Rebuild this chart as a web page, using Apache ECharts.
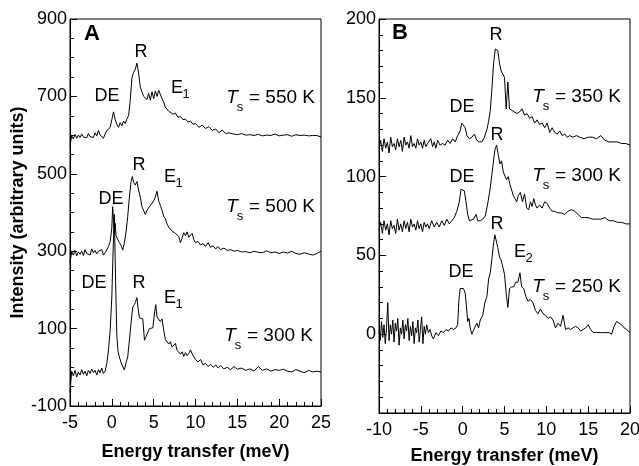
<!DOCTYPE html>
<html>
<head>
<meta charset="utf-8">
<script src="https://cdn.jsdelivr.net/npm/echarts@6/dist/echarts.min.js"></script>
<style>
  html, body { margin: 0; padding: 0; background: #fff; }
  #chart { width: 639px; height: 466px; }
</style>
</head>
<body>
<div id="chart"></div>
<script>
// panel A: Ts = 550 K, 500 K, 300 K
const xA550 = [-5,-4.8,-4.6,-4.4,-4.2,-4,-3.8,-3.6,-3.4,-3.2,-3,-2.8,-2.6,-2.4,-2.2,-2,-1.8,-1.6,-1.4,-1.2,-1,-0.8,-0.6,-0.4,-0.2,0,0.2,0.4,0.6,0.8,1,1.2,1.4,1.6,1.8,2,2.2,2.4,2.6,2.8,3,3.2,3.4,3.6,3.8,4,4.2,4.4,4.6,4.8,5,5.2,5.4,5.6,5.8,6,6.2,6.4,6.6,6.8,7,7.3,7.6,7.9,8.2,8.5,8.8,9.1,9.4,9.7,10,10.4,10.8,11.2,11.6,12,12.4,12.8,13.2,13.6,14,14.5,15,15.5,16,16.5,17,17.5,18,18.5,19,19.5,20,20.5,21,21.5,22,22.5,23,23.5,24,24.5,25];
const yA550 = [572,598,590,602,592,600,594,603,595,600,593,604,596,601,594,606,598,612,600,596,592,603,612,607,620,640,660,640,628,620,632,624,636,630,642,650,690,748,762,770,786,760,724,712,700,704,692,708,690,712,694,714,700,716,713,694,686,672,676,662,666,654,657,646,648,640,641,634,636,628,630,620,626,617,622,612,616,606,613,604,606,603,601,604,600,601,599,602,598,600,599,603,598,600,601,597,601,599,600,598,599,599,595];

const xA500 = [-5,-4.8,-4.6,-4.4,-4.2,-4,-3.8,-3.6,-3.4,-3.2,-3,-2.8,-2.6,-2.4,-2.2,-2,-1.8,-1.6,-1.4,-1.2,-1,-0.8,-0.6,-0.4,-0.2,0,0.1,0.2,0.3,0.4,0.5,0.7,0.9,1.1,1.3,1.5,1.7,1.9,2.1,2.3,2.45,2.6,2.8,3,3.2,3.4,3.6,3.8,4,4.2,4.4,4.6,4.8,5,5.2,5.4,5.6,5.8,6,6.2,6.4,6.6,6.8,7,7.2,7.4,7.6,7.8,8,8.2,8.4,8.6,8.8,9,9.2,9.4,9.6,9.8,10,10.3,10.6,10.9,11.2,11.5,11.8,12.1,12.4,12.7,13,13.4,13.8,14.2,14.6,15,15.5,16,16.5,17,17.5,18,18.5,19,19.5,20,20.5,21,21.5,22,22.5,23,23.5,24,24.5,25];
const yA500 = [270,298,290,302,288,298,292,300,289,304,294,298,290,306,296,302,293,300,295,304,290,296,300,312,325,360,415,380,345,372,340,335,322,315,303,322,350,390,440,480,493,478,471,480,458,440,415,420,395,406,402,418,413,430,440,455,430,418,406,390,384,370,362,364,352,356,346,350,338,322,334,348,340,350,336,337,346,330,322,325,316,320,312,322,310,314,306,312,304,308,302,304,300,302,298,299,296,300,297,296,301,296,298,294,298,295,300,294,292,296,293,290,294,300];

const xA300 = [-5,-4.8,-4.6,-4.4,-4.2,-4,-3.8,-3.6,-3.4,-3.2,-3,-2.8,-2.6,-2.4,-2.2,-2,-1.8,-1.6,-1.4,-1.2,-1,-0.8,-0.6,-0.4,-0.2,0,0.15,0.3,0.45,0.6,0.75,0.9,1.1,1.3,1.5,1.7,1.9,2.1,2.3,2.5,2.7,2.85,3,3.15,3.3,3.5,3.7,3.9,4.1,4.3,4.5,4.7,4.9,5.1,5.25,5.4,5.6,5.8,6,6.2,6.4,6.6,6.8,7,7.2,7.4,7.6,7.8,8,8.2,8.4,8.6,8.8,9,9.2,9.4,9.6,9.8,10,10.3,10.6,10.9,11.2,11.5,11.8,12.1,12.4,12.7,13,13.4,13.8,14.2,14.6,15,15.5,16,16.5,17,17.5,18,18.5,19,19.5,20,20.5,21,21.5,22,22.5,23,23.5,24,24.5,25];
const yA300 = [-66,-10,-22,-8,-25,-12,-20,-6,-18,-10,-22,-8,-16,-4,-14,-8,-20,-6,-14,-2,-16,-10,10,45,96,182,300,395,220,80,40,27,12,11,-7,12,27,70,115,156,162,170,180,150,128,132,125,70,80,78,100,104,102,140,162,130,135,118,125,96,72,74,60,66,52,55,62,44,48,34,40,28,38,30,36,45,35,38,20,14,20,6,10,2,8,0,6,-2,4,-4,0,-6,2,-5,-2,-8,-4,-10,2,-8,-4,-10,-6,-8,-5,-10,-12,-6,-10,-14,-8,-12,-10,-12];

// panel B: Ts = 350 K, 300 K, 250 K
const xB350 = [-10,-9.8,-9.6,-9.4,-9.2,-9,-8.8,-8.6,-8.4,-8.2,-8,-7.8,-7.6,-7.4,-7.2,-7,-6.8,-6.6,-6.4,-6.2,-6,-5.8,-5.6,-5.4,-5.2,-5,-4.8,-4.6,-4.4,-4.2,-4,-3.8,-3.6,-3.4,-3.2,-3,-2.7,-2.4,-2.1,-1.8,-1.5,-1.2,-0.9,-0.6,-0.3,-0.1,0.1,0.3,0.5,0.8,1.1,1.4,1.7,2,2.3,2.6,2.9,3.1,3.3,3.5,3.7,3.9,4,4.2,4.4,4.6,4.8,5,5.2,5.4,5.6,5.9,6.2,6.5,6.8,7.1,7.4,7.7,8,8.3,8.6,8.9,9.2,9.5,9.8,10.1,10.4,10.7,11,11.3,11.6,11.9,12.2,12.5,12.8,13.2,13.6,14,14.5,15,15.5,16,16.5,17,17.5,18,18.5,19,19.5,20];
const yB350 = [118,123,116,124,118,122,115,125,119,121,117,124,119,123,116,125,120,122,118,126,119,121,118,124,120,122,118,123,119,121,120,124,119,122,118,123,120,121,120,123,121,124,122,126,129,134,135,131,126,124,125,127,123,122,122,125,130,135,142,156,172,181,182,180,172,167,166,163,143,160,143,142,141,140,141,143,139,140,137,138,134,136,133,134,131,134,128,131,128,127,129,126,127,125,126,125,126,125,124,125,125,124,126,123,122,122,122,121,121,120];

const xB300 = [-10,-9.8,-9.6,-9.4,-9.2,-9,-8.8,-8.6,-8.4,-8.2,-8,-7.8,-7.6,-7.4,-7.2,-7,-6.8,-6.6,-6.4,-6.2,-6,-5.8,-5.6,-5.4,-5.2,-5,-4.8,-4.6,-4.4,-4.2,-4,-3.7,-3.4,-3.1,-2.8,-2.5,-2.2,-1.9,-1.6,-1.3,-1,-0.7,-0.4,-0.2,0,0.2,0.4,0.6,0.8,1,1.3,1.6,1.8,2.1,2.4,2.7,3,3.3,3.6,3.85,4.05,4.25,4.45,4.65,4.85,5.05,5.25,5.45,5.65,5.85,6.05,6.25,6.45,6.65,6.9,7.15,7.4,7.65,7.9,8.1,8.3,8.5,8.7,8.9,9.2,9.5,9.8,10.1,10.4,10.7,11,11.4,11.8,12.2,12.6,13,13.4,13.8,14.2,14.6,15,15.5,16,16.5,17,17.5,18,18.5,19,19.5,20];
const yB300 = [66,71,64,72,66,70,63,72,67,69,64,73,66,70,65,72,67,71,65,73,68,70,66,72,67,70,65,71,68,70,67,72,68,71,68,72,69,73,70,72,74,78,84,92,92,91,84,76,72,71,73,76,72,72,73,75,83,93,106,117,120,114,108,110,103,104,98,100,95,96,88,86,84,88,90,84,89,80,79,84,81,86,82,80,82,80,84,83,80,78,78,77,77,76,78,79,78,76,74,74,74,73,73,73,74,72,72,71,71,70,70];

const xB250 = [-10,-9.85,-9.7,-9.55,-9.4,-9.25,-9.1,-8.95,-8.8,-8.65,-8.5,-8.35,-8.2,-8.05,-7.9,-7.75,-7.6,-7.45,-7.3,-7.15,-7,-6.85,-6.7,-6.55,-6.4,-6.25,-6.1,-5.95,-5.8,-5.65,-5.5,-5.35,-5.2,-5.05,-4.9,-4.75,-4.6,-4.45,-4.3,-4.1,-3.9,-3.7,-3.5,-3.2,-2.9,-2.6,-2.3,-2,-1.7,-1.4,-1.1,-0.8,-0.6,-0.45,-0.3,-0.1,0.1,0.3,0.45,0.6,0.75,0.9,1.1,1.3,1.5,1.7,1.9,2.1,2.4,2.65,2.9,3.1,3.3,3.5,3.7,3.85,4,4.2,4.4,4.6,4.8,5,5.2,5.4,5.6,5.85,6.1,6.35,6.6,6.85,7.05,7.3,7.55,7.8,8.1,8.4,8.7,9,9.3,9.6,9.9,10.2,10.5,10.8,11.1,11.4,11.7,12,12.3,12.6,12.9,13.2,13.5,13.8,14.1,14.4,14.7,15,15.3,15.6,16,16.5,17,17.5,17.8,18.1,18.4,18.7,19,19.3,19.6,20];
const yB250 = [2,-4,8,-2,6,-6,4,20,-4,6,0,9,-5,7,2,10,-7,4,0,9,-3,6,2,10,-4,5,-1,8,-6,4,1,9,-5,3,11,-6,5,0,6,1,3,-1,-3,1,-1,2,1,3,2,4,3,4,6,22,29,30,29,26,18,8,10,4,0,1,5,7,4,9,12,20,24,35,39,48,58,63,63,55,49,47,48,38,26,17,29,30,30,33,33,39,30,29,24,21,22,20,15,13,16,13,12,10,11,9,4,7,5,12,3,4,3,4,5,4,2,3,4,6,3,1,1,1,1,1,0,5,8,7,6,4,3,1];

const xTicksA = [-5, 0, 5, 10, 15, 20, 25];
const yTicksA = [-100, 100, 300, 500, 700, 900];
const xTicksB = [-10, -5, 0, 5, 10, 15, 20];
const yTicksB = [0, 50, 100, 150, 200];

const FONT = '"Liberation Sans", Arial, Helvetica, sans-serif';

const pts = (xs, ys) => xs.map((x, i) => [x, ys[i]]);

function axisX(gridIndex, ticks) {
  return {
    type: 'value', gridIndex,
    min: ticks[0], max: ticks[ticks.length - 1], interval: 5,
    name: 'Energy transfer (meV)', nameLocation: 'middle',
    nameGap: gridIndex === 0 ? 37 : 34,
    nameTextStyle: { fontFamily: FONT, fontSize: 18, fontWeight: 'bold', color: '#000' },
    axisLine: { show: true, onZero: false, lineStyle: { color: '#000', width: 1 } },
    axisTick: { show: true, inside: true, length: 7, lineStyle: { color: '#000' } },
    minorTick: { show: true, splitNumber: 5, length: 4, lineStyle: { color: '#000' } },
    splitLine: { show: false },
    axisLabel: { fontFamily: FONT, fontSize: 18, color: '#000', margin: 8 },
  };
}

function axisY(gridIndex, min, max, interval, minor, labels) {
  return {
    type: 'value', gridIndex, min, max, interval,
    name: gridIndex === 0 ? 'Intensity (arbitrary units)' : '',
    nameLocation: 'middle', nameGap: 43,
    nameTextStyle: { fontFamily: FONT, fontSize: 18, fontWeight: 'bold', color: '#000' },
    axisLine: { show: true, onZero: false, lineStyle: { color: '#000', width: 1 } },
    axisTick: { show: true, inside: true, length: 7, lineStyle: { color: '#000' } },
    minorTick: { show: true, splitNumber: minor, length: 4, lineStyle: { color: '#000' } },
    splitLine: { show: false },
    axisLabel: {
      fontFamily: FONT, fontSize: 18, color: '#000', margin: 3,
      formatter: v => (labels.indexOf(v) >= 0 ? String(v) : ''),
    },
  };
}

function curve(xi, xs, ys) {
  return {
    type: 'line', xAxisIndex: xi, yAxisIndex: xi,
    data: pts(xs, ys), symbol: 'none', smooth: false,
    lineStyle: { color: '#000', width: 1 }, silent: true,
  };
}

function txt(x, y, s, size, extra) {
  return {
    type: 'text', x, y,
    style: Object.assign({
      text: s, fontFamily: FONT, fontSize: size, fill: '#000',
      textAlign: 'center', textVerticalAlign: 'middle',
      align: 'center', verticalAlign: 'middle',
    }, extra || {}),
  };
}

// "T_s = ... K" label
function tsLabel(x, y, val) {
  return [
    txt(x, y, 'T', 19, { fontStyle: 'italic' }),
    txt(x + 8, y + 9, 's', 13),
    txt(x + 17, y, '= ' + val + ' K', 19, { textAlign: 'left', align: 'left' }),
  ];
}

// "E_n" label
function eLabel(x, y, n) {
  return [txt(x, y, 'E', 18), txt(x + 9, y + 6, String(n), 13)];
}

const graphics = [
  txt(92, 34, 'A', 22, { fontWeight: 'bold' }),
  txt(400, 33, 'B', 22, { fontWeight: 'bold' }),
  // panel A
  txt(107, 96, 'DE', 18), txt(141, 52, 'R', 18), ...eLabel(177, 88, 1), ...tsLabel(232, 98, 550),
  txt(111, 199, 'DE', 18), txt(139, 165, 'R', 18), ...eLabel(170, 177, 1), ...tsLabel(232, 207, 500),
  txt(94, 283, 'DE', 18), txt(139, 283, 'R', 18), ...eLabel(170, 298, 1), ...tsLabel(230, 336, 300),
  // panel B
  txt(462, 107, 'DE', 18), txt(496, 35, 'R', 18), ...tsLabel(538, 97, 350),
  txt(462, 177, 'DE', 18), txt(497, 135, 'R', 18), ...tsLabel(538, 176, 300),
  txt(461, 272, 'DE', 18), txt(497, 224, 'R', 18), ...eLabel(520, 252, 2), ...tsLabel(538, 287, 250),
];

const gridBase = {
  top: 19, show: true, borderColor: '#000', borderWidth: 1,
  backgroundColor: 'transparent', containLabel: false, outerBoundsMode: 'none',
};

const chart = echarts.init(document.getElementById('chart'), null, { renderer: 'canvas' });
chart.setOption({
  animation: false,
  backgroundColor: '#fff',
  grid: [
    Object.assign({ left: 70, right: 318, bottom: 60 }, gridBase),
    Object.assign({ left: 379, right: 9, bottom: 53 }, gridBase),
  ],
  xAxis: [axisX(0, xTicksA), axisX(1, xTicksB)],
  yAxis: [
    axisY(0, -100, 900, 200, 4, yTicksA),
    axisY(1, -50, 200, 50, 5, yTicksB),
  ],
  series: [
    curve(0, xA550, yA550),
    curve(0, xA500, yA500),
    curve(0, xA300, yA300),
    curve(1, xB350, yB350),
    curve(1, xB300, yB300),
    curve(1, xB250, yB250),
  ],
  graphic: graphics,
});
</script>
</body>
</html>
